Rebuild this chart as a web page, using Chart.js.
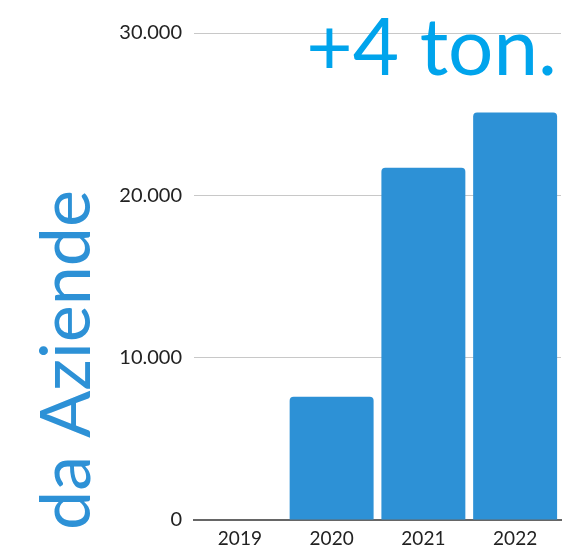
<!DOCTYPE html>
<html>
<head>
<meta charset="utf-8">
<script src="https://cdn.jsdelivr.net/npm/chart.js@4/dist/chart.umd.min.js"></script>
<style>
  html, body { margin: 0; padding: 0; background: #fff; }
  #wrap { position: relative; width: 565px; height: 549px; }
</style>
</head>
<body>
<div id="wrap"><canvas id="c" width="565" height="549"></canvas></div>
<script>
const categories = ['2019', '2020', '2021', '2022'];
const values = [0, 7600, 21700, 25100];
const yTicks = [0, 10000, 20000, 30000];
const headline = '+4 ton.';
const sideLabel = 'da Aziende';

function fmt(v) {
  return String(v).replace(/\B(?=(\d{3})+(?!\d))/g, '.');
}

const textPlugin = {
  id: 'bigText',
  afterDraw(chart) {
    const ctx = chart.ctx;
    ctx.save();
    ctx.font = '400 80px Lato';
    ctx.fillStyle = '#00a4ec';
    ctx.textAlign = 'right';
    ctx.textBaseline = 'alphabetic';
    ctx.fillText(headline, 557, 75);
    ctx.restore();

    ctx.save();
    ctx.translate(90, 530);
    ctx.rotate(-Math.PI / 2);
    ctx.font = '400 70px Lato';
    ctx.fillStyle = '#2d91d6';
    ctx.textAlign = 'left';
    ctx.textBaseline = 'alphabetic';
    ctx.fillText(sideLabel, 0, 0);
    ctx.restore();
  }
};

new Chart(document.getElementById('c'), {
  type: 'bar',
  data: {
    labels: categories,
    datasets: [{
      data: values,
      backgroundColor: '#2d91d6',
      borderRadius: { topLeft: 4, topRight: 4 },
      borderSkipped: 'bottom',
      barPercentage: 0.915,
      categoryPercentage: 1
    }]
  },
  options: {
    responsive: false,
    animation: false,
    layout: { padding: { top: 33, right: 4, left: 0, bottom: 0 } },
    plugins: { legend: { display: false }, tooltip: { enabled: false } },
    scales: {
      x: {
        grid: { display: false, drawTicks: false },
        border: { display: true, color: '#666', width: 2 },
        ticks: { color: '#222', font: { family: 'Lato', size: 19 }, padding: 7 },
        afterFit(axis) { axis.height = 29; }
      },
      y: {
        min: 0, max: 30000,
        afterBuildTicks(axis) { axis.ticks = yTicks.map(v => ({ value: v })); },
        grid: { color: '#c8c8c8', lineWidth: 1, drawTicks: false },
        border: { display: false },
        ticks: {
          color: '#222', font: { family: 'Lato', size: 20 }, padding: 12,
          callback: (v) => fmt(v)
        },
        afterFit(axis) { axis.width = 194; }
      }
    }
  },
  plugins: [textPlugin]
});
</script>
</body>
</html>
